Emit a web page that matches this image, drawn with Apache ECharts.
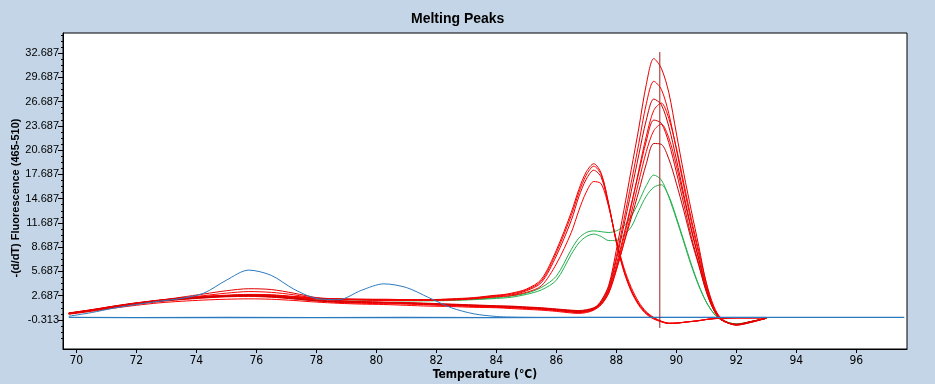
<!DOCTYPE html>
<html><head><meta charset="utf-8">
<script src="https://cdn.jsdelivr.net/npm/echarts@6/dist/echarts.min.js"></script>
<style>html,body{margin:0;padding:0;background:#C3D5E6}#c{width:935px;height:384px}</style>
</head><body><div id="c"></div>
<script>
// temperatures (°C) shared by the sample curves
const temps = [69.75,70.5,71.25,72,72.75,73.5,74.25,75,75.75,76.5,77.25,78,78.75,79.5,80.25,81,81.75,82.5,83.25,84,
  84.5,85,85.5,86,86.5,86.75,87,87.25,87.5,87.75,88,88.25,88.5,88.75,89,89.25,89.5,89.75,
  90,90.25,90.5,90.75,91,91.25,91.5,92,92.5,93];

// red samples peaking near 89.3 °C
const redA1 = [0.5,0.9,1.35,1.75,2.1,2.5,2.9,3.3,3.55,3.45,3.0,2.45,2.1,1.95,1.85,1.75,1.65,1.55,1.45,1.35,
  1.3,1.2,1.1,0.95,0.8,0.75,0.8,1.1,2.1,4.0,8.3,13.2,18.3,23.4,28.8,32.0,30.8,27.8,
  22.8,17.8,13.2,8.8,4.2,1.2,-0.2,-0.95,-0.6,-0.1];
const redA2 = [0.5,0.9,1.35,1.75,2.1,2.4,2.7,3.0,3.2,3.1,2.8,2.35,2.05,1.9,1.8,1.7,1.6,1.5,1.4,1.3,
  1.25,1.15,1.05,0.9,0.75,0.7,0.75,1.05,2.0,3.8,7.5,12.0,16.7,21.5,26.4,29.2,28.2,25.2,
  20.8,16.2,11.8,7.8,3.8,1.0,-0.3,-0.9,-0.55,-0.1];
const redA3 = [0.45,0.85,1.3,1.7,2.0,2.25,2.45,2.6,2.65,2.55,2.3,2.05,1.9,1.85,1.8,1.75,1.65,1.55,1.45,1.35,
  1.3,1.2,1.05,0.9,0.7,0.65,0.75,1.0,1.9,3.6,7.1,11.3,15.6,20.1,24.4,27.0,26.3,23.6,
  19.6,15.2,11.0,7.2,3.6,1.0,-0.3,-0.9,-0.5,-0.1];
const redA4 = [0.4,0.75,1.15,1.5,1.8,2.0,2.15,2.25,2.3,2.25,2.1,1.9,1.75,1.65,1.6,1.5,1.4,1.35,1.25,1.2,
  1.1,1.0,0.9,0.75,0.55,0.5,0.6,0.9,1.6,3.1,6.1,9.8,13.8,18.2,22.4,25.6,26.5,24.6,
  21.0,16.6,12.2,8.2,4.3,1.4,-0.1,-0.95,-0.6,-0.1];
const redA5 = [0.5,0.9,1.35,1.75,2.05,2.3,2.5,2.65,2.75,2.65,2.4,2.15,2.0,1.95,1.9,1.85,1.75,1.65,1.55,1.45,
  1.4,1.3,1.2,1.05,0.9,0.85,0.95,1.2,1.8,3.4,6.5,10.2,14.0,17.9,21.8,24.4,24.0,21.6,
  18.0,14.0,10.0,6.6,3.2,0.9,-0.3,-0.85,-0.5,-0.1];
const redA6 = [0.45,0.85,1.25,1.65,1.95,2.2,2.4,2.55,2.6,2.5,2.3,2.05,1.85,1.75,1.7,1.65,1.55,1.45,1.35,1.25,
  1.2,1.1,1.0,0.85,0.65,0.6,0.7,1.0,1.6,3.0,5.8,9.2,12.9,16.8,20.5,23.1,23.9,22.2,
  18.8,14.8,10.8,7.2,3.6,1.1,-0.2,-0.9,-0.55,-0.1];
const redA7 = [0.5,0.9,1.3,1.7,2.05,2.3,2.5,2.6,2.7,2.6,2.4,2.15,1.95,1.9,1.85,1.8,1.7,1.6,1.5,1.4,
  1.35,1.25,1.15,1.0,0.85,0.8,0.9,1.15,1.7,3.2,5.9,9.1,12.3,15.6,19.0,21.5,21.4,19.6,
  16.6,13.2,9.6,6.4,3.2,0.9,-0.3,-0.85,-0.5,-0.1];

// red samples peaking near 87.2 °C
const redB1 = [0.55,0.95,1.4,1.8,2.15,2.4,2.6,2.75,2.85,2.8,2.6,2.4,2.3,2.25,2.2,2.2,2.2,2.25,2.4,2.7,
  3.0,3.5,4.7,8.3,13.0,15.8,18.0,19.0,17.8,14.0,9.4,5.8,3.3,1.6,0.5,-0.1,-0.5,-0.75,
  -0.7,-0.6,-0.5,-0.4,-0.25,-0.15,-0.1,-0.05,-0.05,-0.05];
const redB2 = [0.5,0.9,1.35,1.75,2.1,2.35,2.55,2.7,2.8,2.75,2.55,2.35,2.25,2.2,2.15,2.15,2.15,2.2,2.35,2.6,
  2.9,3.4,4.5,8.0,12.6,15.4,17.6,18.7,17.6,13.9,9.3,5.7,3.2,1.5,0.4,-0.2,-0.55,-0.75,
  -0.7,-0.6,-0.5,-0.4,-0.25,-0.15,-0.1,-0.05,-0.05,-0.05];
const redB3 = [0.55,0.95,1.4,1.8,2.1,2.4,2.6,2.7,2.75,2.7,2.55,2.4,2.3,2.25,2.25,2.2,2.2,2.3,2.45,2.75,
  2.8,3.3,4.3,7.6,12.0,14.9,17.1,18.2,17.3,13.8,9.4,5.9,3.4,1.7,0.6,-0.1,-0.5,-0.7,
  -0.7,-0.6,-0.5,-0.4,-0.25,-0.15,-0.1,-0.05,-0.05,-0.05];
const redB4 = [0.45,0.85,1.3,1.7,2.05,2.3,2.5,2.65,2.7,2.65,2.45,2.3,2.2,2.15,2.1,2.1,2.1,2.15,2.3,2.55,
  2.7,3.1,3.9,6.6,10.5,13.2,15.5,16.8,16.5,13.6,9.6,6.2,3.7,1.9,0.7,0.0,-0.45,-0.7,
  -0.7,-0.6,-0.5,-0.4,-0.25,-0.15,-0.1,-0.05,-0.05,-0.05];

// green samples with two peaks
const green1 = [0.5,0.9,1.35,1.75,2.1,2.35,2.55,2.7,2.8,2.75,2.55,2.35,2.25,2.2,2.15,2.1,2.1,2.15,2.25,2.45,
  2.65,3.0,3.7,5.1,8.4,9.8,10.5,10.7,10.6,10.5,10.7,11.3,12.5,14.3,16.3,17.6,17.0,14.9,
  12.2,9.3,6.4,3.9,1.9,0.5,-0.3,-0.8,-0.5,-0.1];
const green2 = [0.45,0.85,1.3,1.7,2.05,2.3,2.5,2.65,2.75,2.7,2.5,2.3,2.2,2.15,2.1,2.05,2.05,2.1,2.2,2.35,
  2.5,2.85,3.4,4.6,7.8,9.2,10.0,10.3,10.0,9.5,9.5,10.2,11.2,13.2,15.0,16.1,16.4,15.0,
  12.4,9.5,6.6,4.0,1.9,0.5,-0.3,-0.8,-0.5,-0.1];

// blue sample with two low peaks
const blue1 = [0.15,0.6,1.15,1.6,2.0,2.35,3.0,4.6,5.85,5.2,3.5,2.35,2.2,3.35,4.15,3.7,2.45,1.2,0.45,0.12,
  0.05,0.02,0.0,0.0,0.0,0.0,0.0,0.0,0.0,0.0,0.0,0.0,0.0,0.0,0.0,0.0,0.0,0.0,
  0.0,0.0,0.0,0.0,0.0,0.0,0.0,0.0,0.0,0.0];

// flat blue baseline (own temperatures)
const flatTemps = [69.75,72,75,78,81,84,87,90,93,95,97.6];
const flatVals = [0.0,-0.02,0.0,-0.03,0.0,-0.02,0.0,0.02,0.0,0.0,0.0];

// vertical cursor
const cursorX = [89.45, 89.45];
const cursorY = [32.8, -1.3];

// axis ticks
const xTicks = [70,72,74,76,78,80,82,84,86,88,90,92,94,96];
const yTicks = [-0.313,2.687,5.687,8.687,11.687,14.687,17.687,20.687,23.687,26.687,29.687,32.687];
const yMinorTicks = [];
[-3.313].concat(yTicks).forEach(function(m){ [0.75,1.5,2.25].forEach(function(k){ yMinorTicks.push(+(m+k).toFixed(3)); }); });

const xMin = 69.557, xMax = 97.69, yMin = -3.90, yMax = 35.16;

const curves = [
  {v: green1, c: '#22B14C'}, {v: green2, c: '#22B14C'},
  {v: redB4, c: '#FF0000'}, {v: redB3, c: '#E00000'}, {v: redB2, c: '#FF0000'}, {v: redB1, c: '#F00000'},
  {v: redA7, c: '#C80000'}, {v: redA6, c: '#FF0000'}, {v: redA5, c: '#E00000'}, {v: redA4, c: '#FF0000'},
  {v: redA3, c: '#C80000'}, {v: redA2, c: '#FF0000'}, {v: redA1, c: '#E00000'}
];

const series = [];
curves.forEach(function(s){
  series.push({type:'line', data: temps.map(function(t,i){return [t, s.v[i]];}), symbol:'none', smooth:0.3,
    lineStyle:{width:1, color:s.c}, itemStyle:{color:s.c}, z:3, silent:true});
});
series.push({type:'line', data: temps.map(function(t,i){return [t, blue1[i]];}), symbol:'none', smooth:0.3,
  lineStyle:{width:1, color:'#2A7AC0'}, itemStyle:{color:'#2A7AC0'}, z:4, silent:true});
series.push({type:'line', data: flatTemps.map(function(t,i){return [t, flatVals[i]];}), symbol:'none',
  lineStyle:{width:1.3, color:'#2A7AC0'}, itemStyle:{color:'#2A7AC0'}, z:4, silent:true});
series.push({type:'line', data: cursorX.map(function(x,i){return [x, cursorY[i]];}), symbol:'none',
  lineStyle:{width:1, color:'#A02020'}, itemStyle:{color:'#A02020'}, z:5, silent:true});

const narrow = "'Liberation Sans Narrow', 'DejaVu Sans Condensed', sans-serif";
const chart = echarts.init(document.getElementById('c'), null, {renderer:'canvas'});
chart.setOption({
  animation: false,
  backgroundColor: '#C3D5E6',
  title: {text: 'Melting Peaks', left: 411, top: 12, padding: 0,
    textStyle: {fontFamily: "'Liberation Sans', Arial, sans-serif", fontSize: 14, fontWeight: 'bold', color: '#000'}},
  grid: {left: 63, top: 33, width: 844, height: 316, show: true, backgroundColor: '#FFFFFF',
    borderColor: '#000', borderWidth: 1, containLabel: false, outerBoundsMode: 'none'},
  xAxis: {type: 'value', min: xMin, max: xMax,
    axisLine: {show: true, onZero: false, lineStyle: {color: '#000', width: 1}},
    axisTick: {show: true, customValues: xTicks, length: 4, lineStyle: {color: '#000'}},
    axisLabel: {customValues: xTicks, color: '#000', fontFamily: narrow, fontSize: 12, margin: 6},
    splitLine: {show: false},
    name: 'Temperature (°C)', nameLocation: 'middle', nameGap: 20, nameMoveOverlap: false,
    nameTextStyle: {fontFamily: narrow, fontSize: 12, fontWeight: 'bold', color: '#000'}},
  yAxis: [
    {type: 'value', min: yMin, max: yMax,
      axisLine: {show: true, onZero: false, lineStyle: {color: '#000', width: 1}},
      axisTick: {show: true, customValues: yTicks, length: 5, lineStyle: {color: '#000'}},
      axisLabel: {customValues: yTicks, color: '#000', fontFamily: "'Liberation Sans', Arial, sans-serif", fontSize: 11, margin: 4,
        formatter: function(v){ return v.toFixed(3); }},
      splitLine: {show: false},
      name: '-(d/dT) Fluorescence (465-510)', nameLocation: 'middle', nameGap: 42, nameMoveOverlap: false,
      nameTextStyle: {fontFamily: "'Liberation Sans', Arial, sans-serif", fontSize: 11, fontWeight: 'bold', color: '#000', padding: [0, 14, 0, 0]}},
    {type: 'value', min: yMin, max: yMax, position: 'left', offset: 0,
      axisLine: {show: false, onZero: false},
      axisTick: {show: true, customValues: yMinorTicks, length: 2, lineStyle: {color: '#000'}},
      axisLabel: {show: false}, splitLine: {show: false}}
  ],
  series: series
});
</script>
</body></html>
